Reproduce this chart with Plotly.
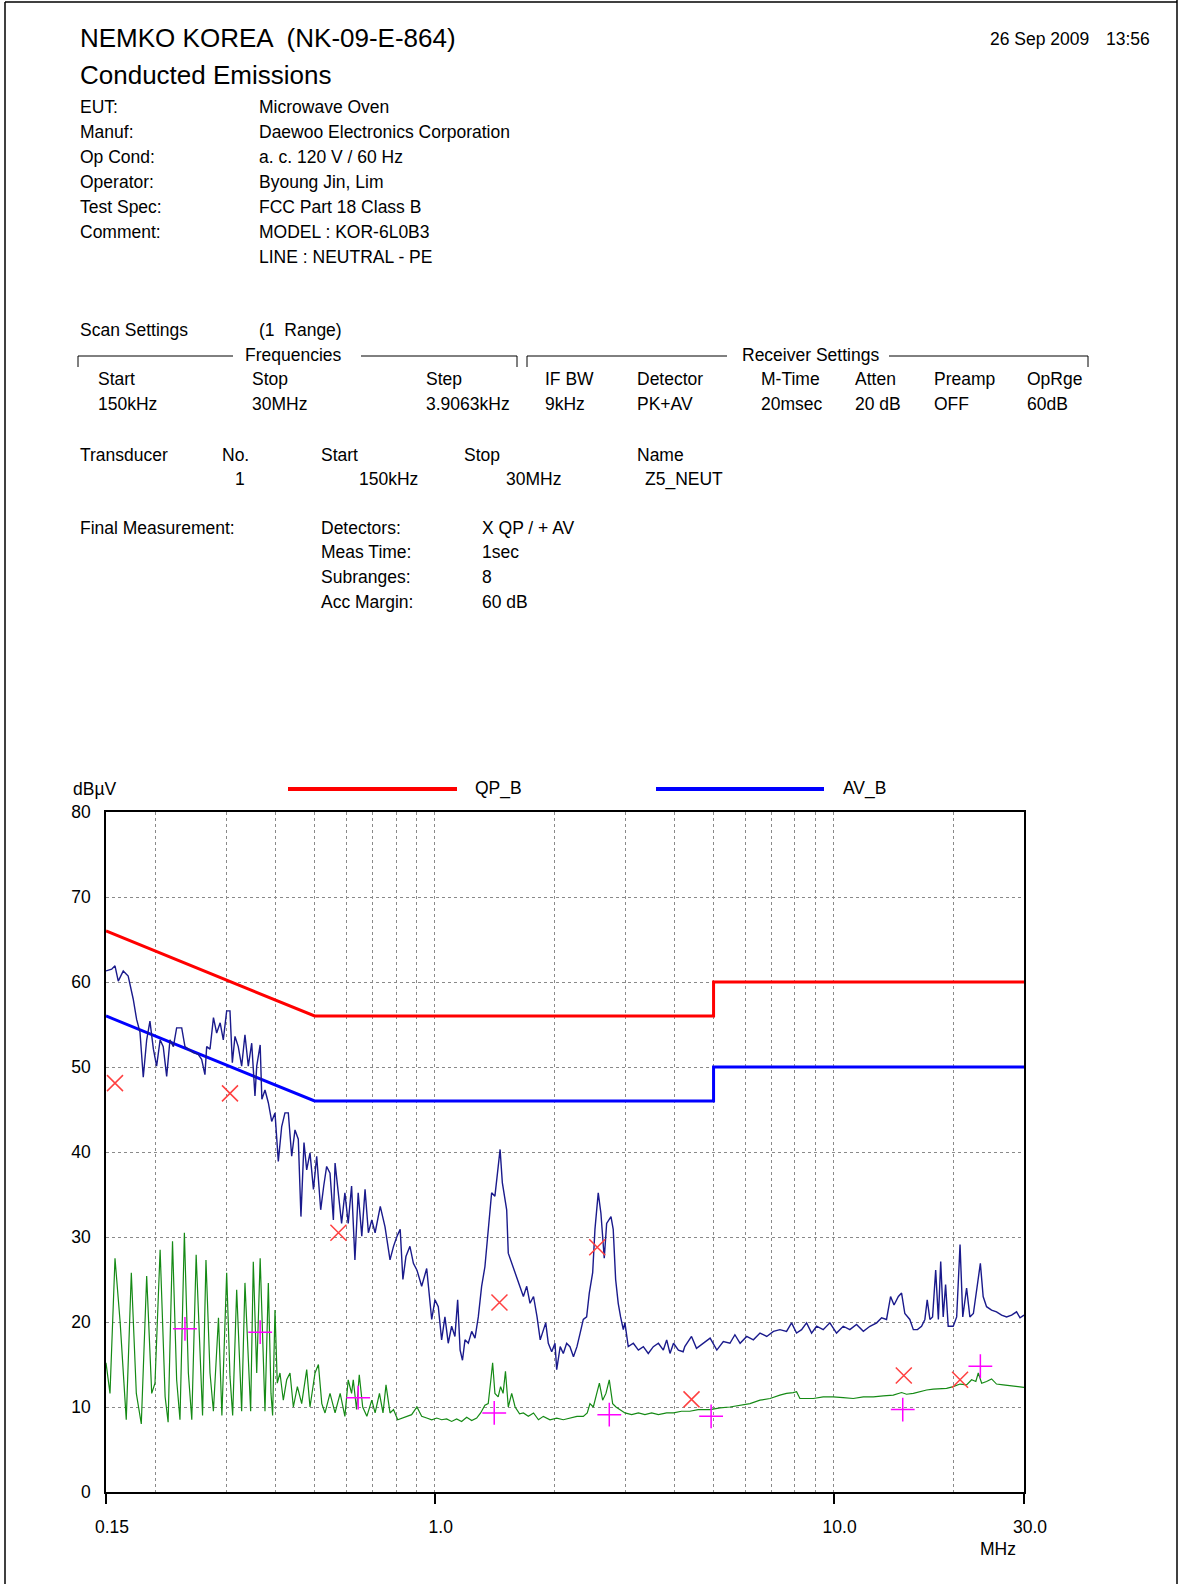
import plotly.graph_objects as go

# ---------------- data ----------------
blue_freq = [0.150, 0.155, 0.158, 0.161, 0.1657, 0.1705, 0.1755, 0.179, 0.1825, 0.186, 0.1897, 0.1933, 0.1972,
             0.2009, 0.205, 0.2087, 0.2129, 0.217, 0.2213, 0.2255, 0.2322, 0.2366, 0.2413, 0.2482, 0.2554, 0.2605,
             0.2655, 0.2682, 0.2734, 0.2789, 0.2841, 0.2899, 0.2952, 0.3010, 0.3068, 0.3110, 0.3158, 0.3218, 0.3282,
             0.3345, 0.3410, 0.3478, 0.3544, 0.3580, 0.3652, 0.3688, 0.3755, 0.3828, 0.3903, 0.3978, 0.4055, 0.4135,
             0.4214, 0.4296, 0.4381, 0.4465, 0.4551, 0.4621, 0.4703, 0.4777, 0.4869, 0.4967, 0.5061, 0.5179, 0.527,
             0.536, 0.5465, 0.5572, 0.5627, 0.5737, 0.5843, 0.5955, 0.607, 0.619, 0.631, 0.643, 0.6565, 0.669, 0.682,
             0.6955, 0.709, 0.7304, 0.7507, 0.7727, 0.7884, 0.8046, 0.8194, 0.8323, 0.847, 0.8668, 0.8843, 0.9026,
             0.9276, 0.9548, 0.9829, 1.0017, 1.0209, 1.0408, 1.0608, 1.0813, 1.1027, 1.1239, 1.1417, 1.158, 1.1739,
             1.1911, 1.2141, 1.2381, 1.2619, 1.2861, 1.311, 1.3362, 1.362, 1.389, 1.4156, 1.435, 1.4586, 1.4775,
             1.5003, 1.515, 1.529, 1.5596, 1.605, 1.6377, 1.6683, 1.7008, 1.7336, 1.769, 1.8053, 1.8385, 1.872, 1.898,
             1.9265, 1.9647, 2.0023, 2.022, 2.0632, 2.1007, 2.1415, 2.1829, 2.2275, 2.2731, 2.315, 2.3577, 2.4036,
             2.4404, 2.4886, 2.5216, 2.57, 2.61, 2.6607, 2.6978, 2.766, 2.802, 2.8415, 2.884, 2.924, 2.970, 2.998,
             3.056, 3.147, 3.240, 3.334, 3.430, 3.532, 3.637, 3.742, 3.815, 3.889, 3.968, 4.082, 4.195, 4.235, 4.403,
             4.531, 4.717, 4.902, 5.095, 5.289, 5.496, 5.656, 5.828, 6.054, 6.292, 6.537, 6.797, 7.064, 7.332, 7.62,
             7.844, 8.073, 8.311, 8.554, 8.805, 9.062, 9.415, 9.784, 10.168, 10.567, 10.98, 11.41, 11.87, 12.33,
             12.82, 13.19, 13.57, 13.89, 14.17, 14.53, 14.80, 15.08, 15.52, 15.84, 16.22, 16.61, 16.93, 17.16, 17.43,
             17.70, 18.02, 18.30, 18.55, 18.82, 19.08, 19.37, 19.94, 20.34, 20.74, 21.07, 21.54, 21.95, 22.40, 22.86,
             23.32, 23.70, 24.17, 24.88, 25.60, 26.36, 27.13, 27.93, 28.74, 29.32, 30.0]
blue_level = [61.3, 61.5, 61.9, 60.1, 61.3, 60.7, 58.0, 55.6, 54.1, 48.8, 53.2, 55.4, 52.1,
              50.1, 53.2, 52.4, 48.9, 53.2, 52.4, 54.6, 54.6, 52.4, 52.1, 51.7, 51.5, 50.9,
              49.1, 52.4, 52.1, 55.8, 54.0, 55.2, 53.2, 56.6, 56.6, 50.5, 53.6, 52.4, 50.1,
              53.8, 50.1, 52.8, 46.6, 50.1, 52.6, 46.2, 47.3, 45.8, 43.6, 44.6, 38.9, 43.0,
              44.6, 44.6, 39.5, 42.6, 41.5, 32.4, 41.1, 37.9, 39.9, 35.6, 39.5, 33.2, 36.0,
              38.3, 37.5, 32.0, 38.7, 35.2, 31.6, 35.2, 31.6, 36.0, 27.3, 35.2, 30.1, 35.6, 30.5,
              32.0, 30.5, 33.6, 31.2, 27.3, 28.9, 30.1, 30.9, 25.0, 27.7, 28.9, 26.9, 26.1,
              24.2, 26.3, 20.3, 22.6, 21.8, 17.9, 20.6, 17.5, 19.5, 18.3, 22.6, 16.7, 15.5,
              17.9, 17.5, 18.9, 18.1, 20.6, 24.2, 26.5, 30.5, 35.2, 34.8, 37.5, 40.3, 36.4,
              34.5, 33.2, 28.1, 26.9, 25.4, 24.2, 23.0, 24.2, 22.2, 23.0, 20.6, 17.9, 19.1, 19.9,
              17.5, 16.5, 17.5, 14.4, 17.1, 16.3, 17.5, 17.1, 15.9, 17.1, 18.7, 20.3, 20.6,
              23.4, 25.8, 30.9, 35.2, 32.8, 27.5, 31.6, 32.4, 30.9, 25.0, 22.2, 20.6, 19.1, 19.9,
              17.1, 17.5, 16.7, 17.1, 16.3, 17.1, 17.5, 16.7, 17.9, 16.3, 17.5, 16.7, 16.5, 17.1, 18.3,
              16.9, 17.5, 18.1, 16.7, 17.7, 17.5, 18.5, 17.5, 18.3, 17.9, 18.7, 18.3, 18.9, 19.1, 18.9,
              19.9, 18.7, 19.1, 19.9, 18.7, 19.5, 19.1, 19.9, 18.7, 19.5, 19.1, 19.7, 18.9, 19.5,
              19.9, 20.5, 20.3, 23.0, 22.0, 23.0, 23.4, 21.0, 20.3, 19.1, 19.1, 19.5, 20.3, 22.6, 20.3,
              20.6, 26.1, 20.3, 27.1, 20.6, 24.4, 19.5, 19.5, 20.6, 29.1, 20.6, 24.0, 20.6, 21.0, 23.8,
              26.9, 23.0, 21.8, 21.4, 21.2, 20.8, 20.6, 20.8, 21.2, 20.5, 20.8]

green_freq = [0.150, 0.1535, 0.158, 0.1628, 0.1686, 0.1736, 0.1787, 0.1839, 0.1897, 0.1953, 0.199, 0.205, 0.211,
              0.2147, 0.2202, 0.2255, 0.2299, 0.2358, 0.2413, 0.2461, 0.2524, 0.2584, 0.2619, 0.2671, 0.2734,
              0.2788, 0.2871, 0.2928, 0.3010, 0.3068, 0.3116, 0.3189, 0.3252, 0.3282, 0.3345, 0.3423, 0.3457,
              0.3510, 0.3580, 0.3652, 0.3721, 0.3755, 0.3828, 0.3887, 0.3924, 0.3978, 0.4031, 0.4094, 0.4174,
              0.4256, 0.4338, 0.4423, 0.4527, 0.4641, 0.4777, 0.4869, 0.5012, 0.5111, 0.5212, 0.531, 0.5465,
              0.5627, 0.5795, 0.5955, 0.607, 0.619, 0.625, 0.637, 0.647, 0.660, 0.676, 0.6955, 0.709, 0.727,
              0.742, 0.755, 0.7727, 0.7884, 0.8077, 0.8294, 0.85, 0.8754, 0.9026, 0.9276, 0.9548, 0.9829, 1.0118,
              1.0408, 1.0712, 1.1027, 1.135, 1.168, 1.2028, 1.2381, 1.2742, 1.3035, 1.3362, 1.362, 1.383, 1.397,
              1.4156, 1.4425, 1.4625, 1.484, 1.5045, 1.529, 1.5596, 1.5907, 1.632, 1.6683, 1.7167, 1.769, 1.820,
              1.872, 1.9455, 2.022, 2.1007, 2.1829, 2.2731, 2.3577, 2.412, 2.450, 2.498, 2.548, 2.587, 2.636,
              2.687, 2.739, 2.793, 2.847, 2.902, 2.998, 3.117, 3.240, 3.365, 3.498, 3.637, 3.815, 3.968, 4.155,
              4.36, 4.573, 4.902, 5.187, 5.496, 5.828, 6.171, 6.537, 6.928, 7.332, 7.62, 7.917, 8.073, 8.23,
              8.554, 8.897, 9.415, 9.976, 10.567, 11.197, 11.87, 12.574, 13.315, 14.108, 14.80, 15.23, 15.84,
              16.45, 17.10, 17.77, 18.52, 19.19, 19.94, 20.74, 21.54, 22.17, 22.72, 23.04, 23.50, 24.17, 24.88,
              25.60, 26.61, 27.65, 28.74, 30.0]
green_level = [15.2, 11.6, 27.5, 19.9, 8.5, 25.8, 11.6, 8.0, 25.4, 11.6, 12.8, 28.5, 11.2,
               8.2, 29.5, 13.2, 8.5, 30.5, 14.0, 8.5, 27.9, 14.8, 9.0, 27.3, 14.0,
               9.5, 20.5, 9.0, 25.8, 13.6, 9.0, 23.8, 14.0, 9.5, 24.6, 13.2, 9.5,
               27.1, 14.0, 27.5, 14.0, 9.5, 24.6, 11.6, 9.0, 21.4, 12.8, 14.0, 10.8,
               13.2, 14.0, 10.0, 12.4, 10.4, 14.4, 10.0, 14.0, 15.0, 10.4, 9.3, 11.6,
               9.3, 11.6, 8.9, 13.2, 11.6, 13.2, 9.7, 13.8, 10.0, 8.9, 10.8, 9.3, 11.6,
               9.3, 12.6, 9.3, 9.7, 8.5, 8.7, 8.9, 9.1, 10.0, 8.9, 8.7, 8.5, 8.7,
               8.5, 8.6, 8.3, 8.6, 8.3, 8.8, 8.4, 8.7, 9.3, 10.2, 10.4, 13.2, 15.2,
               11.6, 11.2, 12.4, 11.6, 14.2, 10.0, 11.6, 10.0, 9.2, 9.3, 8.9, 9.3, 8.5,
               8.9, 8.5, 8.7, 8.5, 8.7, 8.9, 8.9, 9.3, 10.4, 10.0, 11.6, 12.8, 10.8,
               11.6, 13.2, 10.4, 10.0, 9.7, 9.3, 9.1, 9.3, 9.1, 9.3, 9.1, 9.3, 9.3, 9.5,
               9.5, 9.7, 9.7, 9.9, 10.0, 10.2, 10.4, 10.8, 11.0, 11.4, 11.6, 11.7, 11.8, 11.0,
               11.0, 11.0, 11.2, 11.2, 11.1, 11.0, 11.2, 11.2, 11.3, 11.4, 11.7, 11.5, 11.6,
               11.8, 12.0, 12.1, 12.2, 12.2, 12.4, 12.7, 12.6, 13.2, 13.0, 14.0, 12.8, 13.0, 13.3,
               12.7, 12.6, 12.5, 12.4, 12.3]

qp_limit_freq = [0.15, 0.5, 5.0, 5.0, 30.0]
qp_limit_level = [66, 56, 56, 60, 60]
av_limit_freq = [0.15, 0.5, 5.0, 5.0, 30.0]
av_limit_level = [56, 46, 46, 50, 50]

qp_final_freq = [0.158, 0.3068, 0.5737, 1.453, 2.555, 4.403, 14.99, 20.74]
qp_final_level = [48.1, 46.9, 30.5, 22.3, 28.8, 10.9, 13.7, 13.2]
av_final_freq = [0.2366, 0.3652, 0.643, 1.41, 2.739, 4.93, 14.9, 23.32]
av_final_level = [19.2, 18.8, 11.1, 9.3, 9.1, 8.9, 9.7, 14.8]

x_tick_vals = [0.15, 1.0, 10.0, 30.0]
x_tick_text = ["0.15", "1.0", "10.0", "30.0"]
x_minor_vals = [0.2, 0.3, 0.4, 0.5, 0.6, 0.7, 0.8, 0.9, 2, 3, 4, 5, 6, 7, 8, 9, 20]
y_tick_vals = [0, 10, 20, 30, 40, 50, 60, 70, 80]

header_labels = ["EUT:", "Manuf:", "Op Cond:", "Operator:", "Test Spec:", "Comment:", ""]
header_values = ["Microwave Oven", "Daewoo Electronics Corporation", "a. c. 120 V / 60 Hz",
                 "Byoung Jin, Lim", "FCC Part 18 Class B", "MODEL : KOR-6L0B3", "LINE : NEUTRAL - PE"]
scan_headers = ["Start", "Stop", "Step", "IF BW", "Detector", "M-Time", "Atten", "Preamp", "OpRge"]
scan_values = ["150kHz", "30MHz", "3.9063kHz", "9kHz", "PK+AV", "20msec", "20 dB", "OFF", "60dB"]
final_labels = ["Detectors:", "Meas Time:", "Subranges:", "Acc Margin:"]
final_values = ["X QP / + AV", "1sec", "8", "60 dB"]

# ---------------- layout helpers ----------------
W, H = 1190, 1584
L, R, T, B = 106, 1024, 812, 1492
FONT = "Liberation Sans, Arial, sans-serif"
FS = 17.5


def px(x):
    return (x - L) / (R - L)


def py(y):
    return (B - y) / (B - T)


annotations = []
shapes = []


def text(s, x, y, size=FS, anchor="left", color="#000000"):
    annotations.append(dict(text=s, x=px(x), y=py(y), xref="paper", yref="paper",
                            xanchor=anchor, yanchor="middle", showarrow=False,
                            font=dict(family=FONT, size=size, color=color)))


def line(x0, y0, x1, y1, color="#000000", width=1):
    shapes.append(dict(type="line", xref="paper", yref="paper", x0=px(x0), y0=py(y0),
                       x1=px(x1), y1=py(y1), line=dict(color=color, width=width)))


# page border
line(5, 2, 1177, 2, width=1.5)
line(5, 2, 5, 1584, width=1.5)
line(1177, 0, 1177, 1584, width=1.5)

# header
text("NEMKO KOREA  (NK-09-E-864)", 78, 38.5, size=26)
text("Conducted Emissions", 78, 74.5, size=26)
text("26 Sep 2009", 988, 39.5)
text("13:56", 1104, 39.5)
for i, (lab, val) in enumerate(zip(header_labels, header_values)):
    yy = 107 + i * 24.93
    if lab:
        text(lab, 78, yy)
    text(val, 256.5, yy)

# scan settings
text("Scan Settings", 78, 329.5)
text("(1  Range)", 256.5, 329.5)
text("Frequencies", 293, 355, anchor="center")
text("Receiver Settings", 810, 355, anchor="center")
line(78, 356, 233, 356)
line(78, 356, 78, 367)
line(361, 356, 517, 356)
line(517, 356, 517, 367)
line(527, 356, 727, 356)
line(527, 356, 527, 367)
line(889, 356, 1088, 356)
line(1088, 356, 1088, 367)
scan_x = [96, 249.5, 424.3, 542.5, 635.4, 758.7, 852.6, 932.4, 1025.4]
for xx, h, v in zip(scan_x, scan_headers, scan_values):
    text(h, xx, 379)
    text(v, xx, 404)

# transducer
text("Transducer", 78, 454.5)
text("No.", 220, 454.5)
text("Start", 319, 454.5)
text("Stop", 461.7, 454.5)
text("Name", 635.4, 454.5)
text("1", 233.4, 479)
text("150kHz", 356.6, 479)
text("30MHz", 504, 479)
text("Z5_NEUT", 642.5, 479)

# final measurement
text("Final Measurement:", 78, 527.5)
for i, (lab, val) in enumerate(zip(final_labels, final_values)):
    yy = 527.5 + i * 24.9
    text(lab, 319, yy)
    text(val, 479.8, yy)

# chart legend / unit labels
text("dB\u00b5V", 71, 789)
line(288, 789, 457, 789, color="#ff0000", width=4)
text("QP_B", 473, 789)
line(656, 789, 824, 789, color="#0000ff", width=4)
text("AV_B", 841, 789)
text("MHz", 998, 1549, anchor="center")

# ---------------- figure ----------------
fig = go.Figure()
fig.add_trace(go.Scatter(x=qp_limit_freq, y=qp_limit_level, mode="lines",
                         line=dict(color="#ff0000", width=3), name="QP_B"))
fig.add_trace(go.Scatter(x=av_limit_freq, y=av_limit_level, mode="lines",
                         line=dict(color="#0000ff", width=3), name="AV_B"))
fig.add_trace(go.Scatter(x=green_freq, y=green_level, mode="lines",
                         line=dict(color="#158a15", width=1.2), name="AV scan"))
fig.add_trace(go.Scatter(x=blue_freq, y=blue_level, mode="lines",
                         line=dict(color="#1a1a8c", width=1.4), name="PK scan"))
fig.add_trace(go.Scatter(x=qp_final_freq, y=qp_final_level, mode="markers",
                         marker=dict(symbol="x-thin", size=16, color="#ff4040",
                                     line=dict(color="#ff4040", width=1.5)), name="QP"))
fig.add_trace(go.Scatter(x=av_final_freq, y=av_final_level, mode="markers",
                         marker=dict(symbol="cross-thin", size=17, color="#ff00ff",
                                     line=dict(color="#ff00ff", width=1.5)), name="AV"))

grid_color = "#8a8a8a"
fig.update_layout(
    width=W, height=H,
    margin=dict(l=L, r=W - R, t=T, b=H - B, pad=0),
    paper_bgcolor="white", plot_bgcolor="white",
    showlegend=False,
    annotations=annotations, shapes=shapes,
    font=dict(family=FONT, size=FS, color="#000000"),
    xaxis=dict(type="log", range=[-0.8239087, 1.4771213], tickvals=x_tick_vals, ticktext=x_tick_text,
               ticks="outside", ticklen=10, tickwidth=1.5, tickcolor="#000000",
               showline=True, linecolor="#000000", linewidth=1.5, mirror=True,
               showgrid=True, gridcolor=grid_color, griddash="dot", gridwidth=1,
               minor=dict(tickvals=x_minor_vals, showgrid=True, gridcolor=grid_color,
                          griddash="dot", gridwidth=1, ticks=""),
               ticklabelstandoff=8, ticklabelshift=6, zeroline=False,
               tickfont=dict(family=FONT, size=FS, color="#000000")),
    yaxis=dict(range=[0, 80], tickvals=y_tick_vals, ticks="",
               showline=True, linecolor="#000000", linewidth=1.5, mirror=True,
               showgrid=True, gridcolor=grid_color, griddash="dot", gridwidth=1,
               ticklabelstandoff=10, zeroline=False,
               tickfont=dict(family=FONT, size=FS, color="#000000")),
)

fig.write_html("out.html", config={"displayModeBar": False},
               post_script="document.body.style.margin='0';document.body.style.overflow='hidden';")
